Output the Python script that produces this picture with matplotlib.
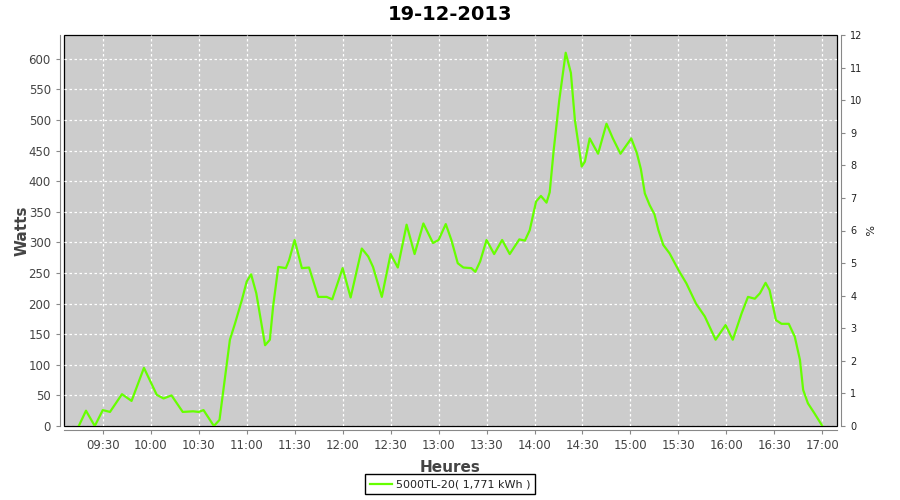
import pandas as pd
import matplotlib
matplotlib.use("Agg")
import matplotlib.pyplot as plt
import matplotlib.dates as mdates

# Puissance (heure, watts)
heures = ["09:15:00", "09:19:30", "09:25:00", "09:30:00", "09:34:30", "09:42:00",
          "09:48:00", "09:55:45", "10:03:45", "10:08:00", "10:13:00", "10:20:00",
          "10:26:30", "10:30:00", "10:33:00", "10:39:30", "10:43:00", "10:49:30",
          "10:52:45", "10:57:00", "11:00:00", "11:02:45", "11:06:00", "11:11:30",
          "11:14:30", "11:16:30", "11:19:45", "11:24:30", "11:26:30", "11:30:00",
          "11:34:30", "11:39:00", "11:44:45", "11:50:00", "11:53:30", "12:00:00",
          "12:05:00", "12:12:00", "12:16:00", "12:19:00", "12:24:30", "12:30:00",
          "12:34:30", "12:40:00", "12:45:00", "12:50:30", "12:56:30", "13:00:00",
          "13:04:30", "13:08:00", "13:12:00", "13:15:30", "13:20:30", "13:23:00",
          "13:26:00", "13:30:00", "13:34:45", "13:39:45", "13:44:30", "13:50:30",
          "13:54:00", "13:57:00", "14:01:00", "14:04:00", "14:07:30", "14:09:30",
          "14:12:00", "14:15:30", "14:19:30", "14:22:45", "14:25:15", "14:29:30",
          "14:31:30", "14:34:30", "14:39:45", "14:45:00", "14:49:00", "14:53:45",
          "15:00:30", "15:04:00", "15:06:30", "15:09:00", "15:12:00", "15:15:00",
          "15:17:30", "15:20:30", "15:24:30", "15:30:00", "15:35:00", "15:41:00",
          "15:46:30", "15:53:15", "15:59:30", "16:04:00", "16:09:30", "16:13:30",
          "16:17:45", "16:21:00", "16:24:30", "16:27:00", "16:31:00", "16:34:30",
          "16:39:00", "16:42:45", "16:46:00", "16:48:00", "16:51:00", "16:55:00",
          "17:00:00"]
watts = [0, 25, 0, 26, 23, 52,
         41, 95, 51, 45, 50, 23,
         24, 23, 26, 0, 10, 141,
         168, 206, 236, 248, 217, 132,
         141, 195, 260, 258, 271, 304,
         258, 259, 211, 211, 207, 258,
         210, 290, 277, 260, 211, 281,
         259, 329, 281, 331, 299, 304,
         330, 304, 266, 259, 258, 252,
         269, 304, 281, 304, 281, 305,
         303, 320, 367, 376, 365, 382,
         451, 533, 610, 577, 500, 424,
         432, 470, 445, 494, 470, 445,
         470, 446, 420, 380, 361, 346,
         320, 296, 282, 255, 233, 200,
         179, 141, 165, 141, 184, 211,
         208, 217, 234, 222, 173, 167,
         167, 146, 108, 59, 37, 21,
         0]

titre = "19-12-2013"
serie = "5000TL-20( 1,771 kWh )"

t = pd.to_datetime(["2013-12-19 " + h for h in heures])

fig = plt.figure(figsize=(9, 5), dpi=100)
ax = fig.add_axes([64 / 900, 74 / 500, (837 - 64) / 900, (426 - 35) / 500])

ax.set_facecolor("#cccccc")
ax.plot(t, watts, color="#66ff00", lw=1.6, label=serie, zorder=3)

ax.set_xlim(pd.Timestamp("2013-12-19 09:05:45"), pd.Timestamp("2013-12-19 17:09:10"))
ax.set_ylim(0, 639)
ax.set_yticks(range(0, 601, 50))
ax.xaxis.set_major_locator(mdates.MinuteLocator(byminute=[0, 30]))
ax.xaxis.set_major_formatter(mdates.DateFormatter("%H:%M"))

ax.grid(True, color="white", linestyle=(0, (2, 2)), linewidth=0.9)
ax.set_axisbelow(True)

for s in ax.spines.values():
    s.set_visible(False)
ax.patch.set_edgecolor("black")
ax.patch.set_linewidth(0.9)
ax.spines["left"].set_visible(True)
ax.spines["left"].set_position(("outward", 3))
ax.spines["left"].set_color("#888888")
ax.spines["bottom"].set_visible(True)
ax.spines["bottom"].set_position(("outward", 3))
ax.spines["bottom"].set_color("#888888")
ax.tick_params(colors="#888888", labelcolor="#444444", labelsize=8.5, length=3)

ax.set_ylabel("Watts", fontsize=11, fontweight="bold", color="#444444")
ax.yaxis.set_label_coords((30 - 64) / 773, 0.5)
ax.set_xlabel("Heures", fontsize=11, fontweight="bold", color="#444444")
ax.xaxis.set_label_coords(0.5, (426 - 460) / 391)

ax2 = ax.twinx()
ax2.set_ylim(0, 12)
ax2.set_yticks(range(0, 13))
for s in ax2.spines.values():
    s.set_visible(False)
ax2.spines["right"].set_visible(True)
ax2.spines["right"].set_position(("outward", 3))
ax2.spines["right"].set_color("#888888")
ax2.tick_params(colors="#888888", labelcolor="#222222", labelsize=7, length=3)
ax2.set_ylabel("%", fontsize=8, color="#222222", rotation=-90)
ax2.yaxis.set_label_coords((872 - 64) / 773, 0.5)

fig.text(0.5, 0.972, titre, ha="center", va="center", fontsize=14, fontweight="bold")

fig.legend(loc="lower center", bbox_to_anchor=(0.5, 0.0), frameon=True, fancybox=False,
           edgecolor="black", framealpha=1, fontsize=8, handlelength=2.0,
           handletextpad=0.3, borderpad=0.45, labelcolor="#222222")

fig.savefig("out.png", dpi=100)
